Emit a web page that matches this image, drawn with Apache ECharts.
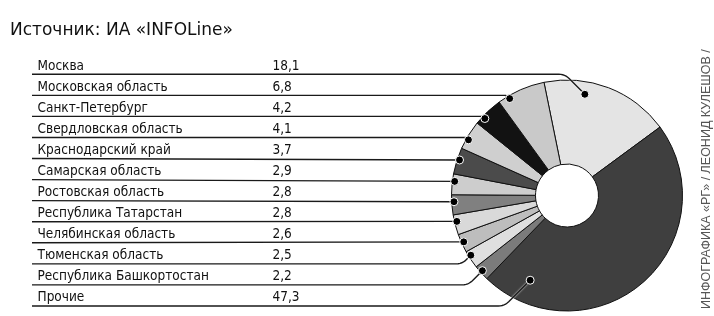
<!DOCTYPE html>
<html><head><meta charset="utf-8">
<script src="https://cdn.jsdelivr.net/npm/echarts@6/dist/echarts.min.js"></script>
<style>html,body{margin:0;padding:0;background:#fff}#c{width:714px;height:316px}</style>
</head><body><div id="c"></div>
<script>
// ---- data ----
const regions = ['Москва','Московская область','Санкт-Петербург','Свердловская область','Краснодарский край','Самарская область','Ростовская область','Республика Татарстан','Челябинская область','Тюменская область','Республика Башкортостан','Прочие'];
const shares = [18.1, 6.8, 4.2, 4.1, 3.7, 2.9, 2.8, 2.8, 2.6, 2.5, 2.2, 47.3];
const sourceText = 'Источник: ИА «INFOLine»';
const creditText = 'ИНФОГРАФИКА «РГ» / ЛЕОНИД КУЛЕШОВ /';

// ---- layout / style ----
const sliceColors = ['#e4e4e4','#c9c9c9','#121212','#cfcfcf','#4b4b4b','#cdcdcd','#808080','#d9d9d9','#bdbdbd','#dfdfdf','#7b7b7b','#3f3f3f'];
const pieOrder = [0, 11, 10, 9, 8, 7, 6, 5, 4, 3, 2, 1]; // clockwise order (table indices)
const dotFrac = [0.33, 0.22, 0.28, 0.36, 0.56, 0.65, 0.65, 0.65, 0.53, 0.7, 0.56, 0.88];
const dotRad  = [0.89, 0.975, 0.975, 0.98, 0.98, 0.98, 0.98, 0.98, 0.98, 0.98, 0.98, 0.80];
const CX = 567, CY = 195.5, R = 115.5, R0 = 31.5, START = 101.5;
const ROW0 = 74.3, ROWH = 21.06, LINE_X = 32, TEXT_X = 37.5;
const FONT = "'DejaVu Sans Condensed', 'Liberation Sans Narrow', sans-serif";

const total = shares.reduce((a, b) => a + b, 0);
const startOf = {};
let acc = 0;
pieOrder.forEach(i => { startOf[i] = acc; acc += shares[i]; });
const dotPct = shares.map((v, i) => startOf[i] + dotFrac[i] * v);

function dotXY(i) {
  const th = (START - dotPct[i] / total * 360) * Math.PI / 180;
  const r = dotRad[i] * R;
  return [CX + r * Math.cos(th), CY - r * Math.sin(th)];
}
function leader(i) {
  const rowY = ROW0 + i * ROWH;
  const d = dotXY(i);
  const dy = Math.abs(d[1] - rowY);
  if (dy < 2) return [d, [LINE_X, rowY]];
  const bend = [d[0] - dy, rowY];
  const len = Math.hypot(d[0] - bend[0], d[1] - bend[1]);
  const rc = Math.min(6, len * 0.5);
  const p1 = [bend[0] + (d[0] - bend[0]) / len * rc, bend[1] + (d[1] - bend[1]) / len * rc];
  const p2 = [bend[0] - rc, rowY];
  const pts = [d];
  for (let k = 0; k <= 6; k++) {
    const t = k / 6;
    pts.push([
      (1 - t) * (1 - t) * p1[0] + 2 * (1 - t) * t * bend[0] + t * t * p2[0],
      (1 - t) * (1 - t) * p1[1] + 2 * (1 - t) * t * bend[1] + t * t * p2[1]
    ]);
  }
  pts.push([LINE_X, rowY]);
  return pts;
}

const fmt = v => String(v).replace('.', ',');
const pieData = pieOrder.map(i => ({ name: regions[i], value: shares[i], itemStyle: { color: sliceColors[i] } }));
const labelData = pieOrder.map(i => ({ name: regions[i], value: shares[i] }));
const dotData = shares.map((v, i) => [dotRad[i], dotPct[i]]);

const chart = echarts.init(document.getElementById('c'), null, { renderer: 'canvas' });
chart.setOption({
  backgroundColor: '#fff',
  animation: false,
  title: {
    text: sourceText, left: 5, top: 17,
    textStyle: { fontFamily: "'DejaVu Sans', sans-serif", fontSize: 17, fontWeight: 'normal', color: '#111' }
  },
  polar: { center: [CX, CY], radius: R },
  angleAxis: { type: 'value', min: 0, max: total, startAngle: START, clockwise: true, show: false },
  radiusAxis: { type: 'value', min: 0, max: 1, show: false },
  series: [{
    type: 'pie',
    silent: true,
    z: 2,
    center: [CX, CY],
    radius: [R0, R],
    startAngle: START,
    clockwise: true,
    data: pieData,
    itemStyle: { borderColor: '#111', borderWidth: 1 },
    label: { show: false },
    labelLine: { show: false },
    emphasis: { disabled: true }
  }, {
    type: 'pie',
    silent: true,
    z: 4,
    center: [CX, CY],
    radius: [R0, R],
    startAngle: START,
    clockwise: true,
    avoidLabelOverlap: false,
    data: labelData,
    itemStyle: { color: 'rgba(0,0,0,0)', borderWidth: 0 },
    label: {
      show: true,
      position: 'outer',
      formatter: p => '{n|' + p.name + '}{v|' + fmt(p.value) + '}',
      rich: {
        n: { width: 235, fontFamily: FONT, fontSize: 13.5, color: '#111' },
        v: { fontFamily: FONT, fontSize: 13.5, color: '#111' }
      }
    },
    labelLine: { show: true, lineStyle: { color: '#1a1a1a', width: 1.4, shadowColor: '#ffffff', shadowBlur: 2 } },
    labelLayout: function (p) {
      const i = pieOrder[p.dataIndex];
      const rowY = ROW0 + i * ROWH;
      return { x: TEXT_X, y: rowY - 1, align: 'left', verticalAlign: 'bottom', labelLinePoints: leader(i) };
    },
    emphasis: { disabled: true }
  }, {
    type: 'scatter',
    coordinateSystem: 'polar',
    silent: true,
    z: 10,
    symbolSize: 8,
    data: dotData,
    itemStyle: { color: '#000', borderColor: '#fff', borderWidth: 1, opacity: 1 }
  }],
  graphic: [{
    type: 'text', x: 707, y: 309, rotation: Math.PI / 2,
    style: { text: creditText, font: "12.5px 'Liberation Sans', Arial, sans-serif", fill: '#555', align: 'left', verticalAlign: 'middle' }
  }]
});
</script>
</body></html>
